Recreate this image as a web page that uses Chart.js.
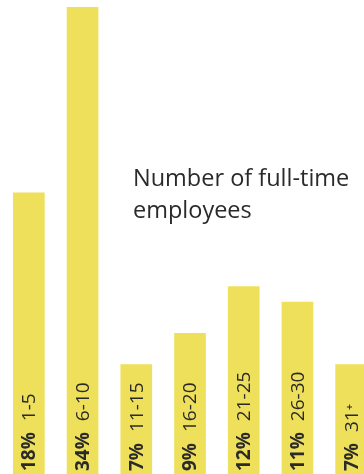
<!DOCTYPE html>
<html>
<head>
<meta charset="utf-8">
<script src="https://cdn.jsdelivr.net/npm/chart.js@4.4.0/dist/chart.umd.min.js"></script>
<style>
    html, body { margin: 0; padding: 0; background: #ffffff; }
    #wrap { width: 364px; height: 474px; overflow: hidden; position: relative; }
    #inner { width: 378px; height: 474px; position: absolute; left: 0; top: 0; }
</style>
</head>
<body>
<div id="wrap"><div id="inner"><canvas id="employeesChart"></canvas></div></div>
<script>
// Anteil der Betriebe nach Anzahl Vollzeitbeschäftigter
const groups = ['1-5', '6-10', '11-15', '16-20', '21-25', '26-30', '31+'];
const shares = [18, 34, 7, 9, 12, 11, 7];
const titleLines = ['Number of full-time', 'employees'];

const barColor = '#eee05a';
const textColor = '#2a2a2a';

// Beschriftung senkrecht in den Balken: fett der Prozentwert, dann die Gruppe
const barLabels = {
    id: 'barLabels',
    afterDatasetsDraw(chart) {
        const ctx = chart.ctx;
        const meta = chart.getDatasetMeta(0);
        meta.data.forEach((bar, i) => {
            const pct = shares[i] + '%';
            const grp = groups[i].replace('+', '⁺');
            ctx.save();
            ctx.translate(bar.x + 1, chart.chartArea.bottom - 3);
            ctx.rotate(-Math.PI / 2);
            ctx.fillStyle = textColor;
            ctx.textBaseline = 'middle';
            ctx.textAlign = 'left';
            ctx.font = 'bold 19px "Open Sans"';
            ctx.fillText(pct, 0, 0);
            const w = ctx.measureText(pct).width;
            ctx.font = '19px "Open Sans"';
            ctx.fillText(grp, w + 11, 0);
            ctx.restore();
        });
    }
};

// Überschrift rechts oben
const titleText = {
    id: 'titleText',
    afterDraw(chart) {
        const ctx = chart.ctx;
        ctx.save();
        ctx.fillStyle = textColor;
        ctx.font = '23.5px "Open Sans"';
        ctx.textBaseline = 'alphabetic';
        ctx.textAlign = 'left';
        titleLines.forEach((line, i) => {
            ctx.fillText(line, 133, 186 + i * 32);
        });
        ctx.restore();
    }
};

const ctx = document.getElementById('employeesChart').getContext('2d');
new Chart(ctx, {
    type: 'bar',
    data: {
        labels: groups,
        datasets: [{
            data: shares,
            backgroundColor: barColor,
            borderWidth: 0,
            barThickness: 31
        }]
    },
    options: {
        responsive: true,
        maintainAspectRatio: false,
        animation: false,
        layout: { padding: { top: 7, left: 2, right: 0, bottom: 0 } },
        plugins: {
            legend: { display: false },
            tooltip: { enabled: false }
        },
        scales: {
            x: {
                display: false
            },
            y: {
                display: false,
                min: 0,
                max: 29.9
            }
        }
    },
    plugins: [barLabels, titleText]
});
</script>
</body>
</html>
